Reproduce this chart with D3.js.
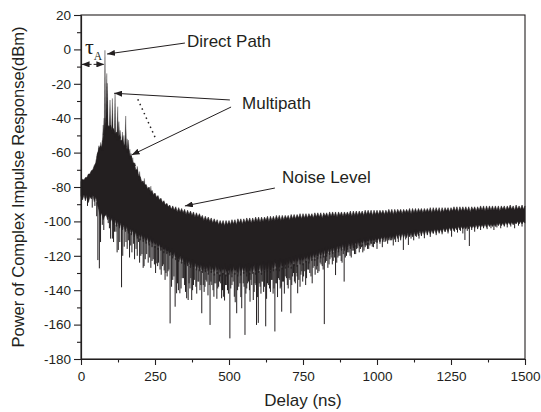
<!DOCTYPE html>
<html>
<head>
<meta charset="utf-8">
<script src="https://cdn.jsdelivr.net/npm/d3@7"></script>
<style>
  body { margin: 0; background: #fff; }
  svg { display: block; font-family: "Liberation Sans", Arial, sans-serif; }
  .axis path, .axis line { stroke: #231f20; stroke-width: 1.1; }
  .axis text { font-size: 13.5px; fill: #231f20; }
  .note { font-size: 17px; fill: #231f20; }
</style>
</head>
<body>
<svg id="chart" width="541" height="412"></svg>
<script>
// sample grid of the trace (ns)
const delay = d3.range(0, 1501, 5);

// top of the dense trace (dBm), one value per sample
const upper = [
  -77, -75.5, -76, -74.5, -74.5, -72.5, -72.5, -70.5, -70, -67.5, -66, -61, -58.5, -56, -57, -52, -48, -40, -44, -45,
  -44, -47, -46, -49, -48, -51, -50, -53, -53, -56, -55, -58, -58, -62, -62, -66, -66, -70, -70, -73.5,
  -74, -77, -76.5, -79, -78.5, -81, -80, -83, -82, -84.5, -83.5, -86, -85, -87.5, -86.5, -89, -88, -90.5, -89.5, -91.5,
  -90.5, -93, -91, -93.5, -91.5, -94.5, -92, -94.5, -92.5, -95, -93, -96, -93.5, -96, -94, -96.5, -94.5, -97.5, -95, -97.5,
  -95.5, -98, -96.5, -99.5, -97, -99.5, -97.5, -100, -98, -101, -98.5, -101, -99, -102, -99.5, -102, -99.5, -102.5, -99.5, -102,
  -99.5, -102, -99, -101.5, -99, -102, -98.5, -101, -98.5, -101.5, -98.5, -101, -98, -100.5, -98, -101, -98, -100.5, -97.5, -100,
  -97.5, -100.5, -97.5, -100, -97.5, -99.5, -97, -100, -97, -99.5, -97, -99.5, -96.5, -99, -96.5, -99.5, -96.5, -99, -96.5, -98.5,
  -96.5, -99, -96, -98.5, -96, -98.5, -96, -98, -95.5, -98.5, -95.5, -98, -95.5, -98, -95.5, -97.5, -95.5, -98, -95, -97.5,
  -95, -97.5, -95, -98, -95, -97, -95, -97.5, -94.5, -97, -94.5, -97, -94.5, -97.5, -94.5, -96.5, -94.5, -97, -94.5, -96.5,
  -94.5, -96.5, -94, -97, -94, -96.5, -94, -96.5, -94, -96, -94, -96.5, -93.5, -96, -93.5, -96, -93.5, -96.5, -93.5, -96,
  -93.5, -96, -93.5, -95.5, -93.5, -96, -93.5, -95.5, -93, -95.5, -93, -96, -93, -95.5, -93, -95, -93, -95.5, -93, -95,
  -93, -95, -92.5, -95.5, -92.5, -95, -92.5, -95, -92.5, -94.5, -92.5, -95, -92.5, -94.5, -92.5, -94.5, -92, -95, -92, -94.5,
  -92, -94.5, -92, -95, -92, -94.5, -92, -94, -92, -94.5, -92, -94, -91.5, -94, -91.5, -94.5, -91.5, -94, -91.5, -94,
  -91.5, -94, -91.5, -94.5, -91.5, -93.5, -91.5, -94, -91.5, -93.5, -91, -93.5, -91, -94, -91, -93.5, -91, -93.5, -91, -93.5,
  -91, -93.5, -91, -94, -91, -93, -91, -93.5, -91, -93, -90.5, -93, -91, -93.5, -90.5, -93, -91, -93, -90.5, -93,
  -91
];

// bottom of the dense trace (dBm)
const lower = [
  -85, -87.5, -84.5, -88, -85, -89, -85.5, -87, -84.5, -88.5, -86, -90, -93, -97, -95, -99, -97, -96, -99, -97,
  -100, -98, -102, -99, -103, -100, -104, -101, -105, -102, -106, -103, -107, -104, -108, -105, -109, -106, -110, -107,
  -111, -107.5, -112, -108.5, -113, -109, -114, -110, -115, -111, -115.5, -112, -116.5, -113, -117, -114, -118.5, -115, -119, -116.5,
  -120, -117, -121.5, -118, -122.5, -119, -123.5, -120, -124.5, -121, -125, -122, -126, -123, -127, -123.5, -128, -124, -128.5, -125,
  -129, -125, -130, -125.5, -129.5, -126, -131, -125, -130, -126.5, -131.5, -125.5, -130.5, -126, -132, -126.5, -131, -125.5, -132, -127,
  -131, -126.5, -132.5, -126, -131, -127, -132, -125.5, -131.5, -126.5, -130.5, -126, -132, -125.5, -131, -126, -130.5, -125, -131, -125.5,
  -130, -125, -131, -124.5, -130, -125, -129.5, -124, -130, -124.5, -129, -123.5, -128.5, -124, -129, -123, -128, -123.5, -127.5, -122.5,
  -127, -122, -127.5, -121.5, -126, -121, -126.5, -120.5, -125, -120.5, -125.5, -120, -124, -119.5, -124.5, -119, -123, -118.5, -123, -118,
  -122, -117.5, -121.5, -117, -121, -116, -120.5, -116, -119.5, -115.5, -119, -115, -118.5, -114.5, -118, -114, -117, -113.5, -117, -113,
  -116.5, -112.5, -116, -112, -115.5, -112, -115, -111.5, -114.5, -111, -114.5, -110.5, -114, -110.5, -113.5, -110, -113, -110, -113, -109.5,
  -112.5, -109.5, -112, -109, -112, -108.5, -111.5, -108.5, -111, -108, -111, -108, -110.5, -107.5, -110, -107.5, -110, -107, -109.5, -107,
  -109.5, -106.5, -109, -106.5, -109, -106, -108.5, -106, -108.5, -105.5, -108, -105.5, -108, -105, -107.5, -105, -107.5, -105, -107, -104.5,
  -107, -104.5, -106.5, -104.5, -106.5, -104, -106, -104, -106, -103.5, -105.5, -103.5, -105.5, -103.5, -105, -103, -105, -103, -104.5, -103,
  -104.5, -102.5, -104.5, -102.5, -104, -102.5, -104, -102, -104, -102, -103.5, -102, -103.5, -101.5, -103.5, -101.5, -103, -101.5, -103, -101.5,
  -103, -101, -102.5, -101, -102.5, -101, -102.5, -100.5, -102, -100.5, -102, -100.5, -102, -100.5, -101.5, -100, -101.5, -100, -101.5, -100,
  -101
];

// deep fades below the trace
const dipDelay = [22, 38, 47, 53, 57, 62, 66, 72, 77, 92, 106, 113, 126, 137, 146, 152, 160, 168, 177, 186,
  194, 202, 210, 217, 222, 232, 240, 248, 256, 262, 267, 275, 281, 287, 294, 301, 310, 318, 323, 329,
  334, 342, 350, 357, 362, 368, 374, 380, 388, 395, 402, 408, 413, 419, 425, 436, 442, 449, 456, 462,
  468, 475, 481, 488, 495, 503, 510, 518, 526, 533, 543, 548, 554, 560, 566, 571, 577, 582, 588, 593,
  599, 605, 611, 617, 624, 630, 637, 644, 649, 655, 661, 667, 673, 678, 684, 690, 697, 703, 709, 715,
  721, 727, 732, 740, 746, 752, 759, 766, 773, 781, 788, 795, 800, 808, 815, 822, 830, 838, 845, 852,
  860, 868, 875, 882, 889, 897, 905, 913, 920, 928, 935, 944, 952, 960, 968, 976, 984, 992, 1000, 1010,
  1018, 1027, 1036, 1045, 1055, 1063, 1072, 1080, 1089, 1097, 1106, 1115, 1124, 1133, 1142, 1150, 1160, 1170, 1180, 1190,
  1200, 1210, 1220, 1230, 1240, 1252, 1262, 1272, 1282, 1290, 1297, 1305, 1312, 1320, 1330, 1340, 1350, 1360, 1372, 1385,
  1395, 1405, 1418, 1430, 1440, 1452, 1465, 1478, 1490,
  96, 100, 110, 118, 122, 131, 141, 156, 164, 172, 181, 190, 198, 206, 213, 227, 236, 244, 252, 259,
  271, 278, 284, 291, 297, 306, 314, 326, 338, 346, 353, 365, 371, 377, 384, 391, 398, 405, 416, 422,
  429, 433, 439, 446, 452, 459, 465, 472, 478, 485, 491, 498, 506, 514, 521, 529, 537, 540, 551, 557,
  563, 569, 574, 585, 591, 596, 602, 608, 614, 620, 627, 633, 640, 646, 652, 658, 664, 670, 676, 681,
  687, 694, 700, 706, 712, 718, 724, 730, 736, 743, 749, 756, 762, 769, 777, 784, 791, 798, 804, 811,
  818, 826, 834, 841, 849, 856, 864, 871, 879, 886, 893, 901, 909, 916, 924, 931, 940, 948, 956, 964,
  972, 980, 988, 996];
const dipPower = [-91, -92, -91, -97, -122.5, -127.3, -112, -102, -105, -101, -110, -106, -116.6, -138.3, -114.7, -112, -111, -114, -113, -116,
  -112, -120, -127, -122, -119, -121, -123, -125, -124.4, -124, -128, -126, -128.5, -130, -129, -159.3, -134, -149.6, -141.8, -140,
  -141.8, -133, -137, -144.7, -145.7, -139, -145.7, -137, -138, -135, -140, -153.4, -137, -138, -135, -160.2, -137, -143.8, -136, -139,
  -135, -144.7, -143.8, -137, -140, -168, -137, -143.8, -153.4, -138, -150.5, -136, -166, -139, -135, -146.7, -137, -145.7, -136, -160.2,
  -159, -138, -135, -141, -161, -136, -139, -134, -142, -164, -136, -133, -139, -152.5, -135, -132, -137, -133, -153.4, -132,
  -135, -130, -141.8, -138, -129, -132, -137, -128, -130, -136, -126, -128, -130, -124, -126, -159.7, -123, -125, -121, -123,
  -131.2, -121, -120, -124, -135, -120, -118, -121, -117, -119, -115.6, -116, -118, -115, -116, -114, -114.7, -113, -116, -113,
  -115, -112, -113, -111, -114, -112, -112, -111, -116.6, -110.5, -113.7, -110, -111, -109, -110, -108.5, -109.8, -108, -109, -107,
  -108, -107, -107.5, -106, -107, -108.9, -106, -106.5, -105.5, -107, -110.8, -105.5, -114.3, -105, -106, -104.5, -105, -104, -104.5, -104,
  -105, -103.5, -104, -103, -103.5, -103, -104, -102.5, -103,
  -104, -110, -112, -106, -118, -112, -120, -116, -121, -118, -122, -120, -124, -119, -126, -124, -127, -122, -130, -126,
  -131, -125, -134, -132, -128, -138, -132, -136, -139, -133, -141, -136, -133, -140, -134, -142, -135, -137, -141, -134,
  -143, -137, -135, -140, -136, -145, -138, -136, -140, -146, -137, -142, -139, -135, -147, -140, -136, -144, -138, -142,
  -136, -140, -134, -141, -137, -144, -136, -142, -135, -138, -145, -137, -141, -134, -139, -136, -144, -134, -138, -135,
  -142, -133, -139, -134, -137, -130, -136, -132, -134, -131, -135, -129, -133, -128, -132, -127, -131, -126, -129, -125,
  -128, -124, -127, -122, -125, -121, -124, -120, -123, -119, -121, -118, -120, -117, -119, -116, -118, -115, -117, -114,
  -116, -113, -115, -112];

// direct path and multipath peaks above the trace
const peakDelay = [52, 56, 60, 63, 67, 72, 75, 78, 81, 87, 89, 98, 106, 115, 124,
  128, 132, 140, 145, 151, 156, 160, 165, 169, 175, 182, 190, 198, 214, 236];
const peakPower = [-64, -60, -56, -57, -54, -53, -44, -40, -0.5, -14, -19.7, -29.4, -28.5, -25.5, -33.3,
  -42, -47, -48, -50, -38.7, -52, -52.7, -58, -60.4, -63, -66, -68, -71, -75, -79.5];

const xTicks = [0, 250, 500, 750, 1000, 1250, 1500];
const xMinor = [125, 375, 625, 875, 1125, 1375];
const yTicks = [-180, -160, -140, -120, -100, -80, -60, -40, -20, 0, 20];
const yMinor = [-170, -150, -130, -110, -90, -70, -50, -30, -10, 10];

const ink = "#231f20";
const svg = d3.select("#chart");

let x = d3.scaleLinear().domain([0, 1500]).range([81, 525]);
let y = d3.scaleLinear().domain([-180, 20]).range([359, 15]);

// arrow head
svg.append("defs").append("marker")
  .attr("id", "head")
  .attr("viewBox", "0 0 8 6")
  .attr("refX", 8).attr("refY", 3)
  .attr("markerWidth", 8).attr("markerHeight", 6)
  .attr("markerUnits", "userSpaceOnUse")
  .attr("orient", "auto-start-reverse")
  .append("path")
  .attr("d", "M0,0L8,3L0,6Z")
  .attr("fill", ink);

// dense trace
let band = d3.area()
  .x((d, i) => x(delay[i]))
  .y0((d, i) => y(lower[i]))
  .y1((d, i) => y(upper[i]));

svg.append("path")
  .datum(delay)
  .attr("d", band)
  .attr("fill", ink)
  .attr("stroke", ink)
  .attr("stroke-width", 0.6)
  .attr("stroke-linejoin", "bevel");

// fades, drawn from the bottom of the trace
let idx = t => Math.round(t / 5);
svg.append("g")
  .selectAll("line")
  .data(dipDelay)
  .join("line")
  .attr("x1", d => x(d)).attr("x2", d => x(d))
  .attr("y1", d => y(lower[idx(d)]) - 2)
  .attr("y2", (d, i) => y(dipPower[i]))
  .attr("stroke", ink)
  .attr("stroke-width", 1);

// peaks as narrow wedges
svg.append("g")
  .selectAll("path")
  .data(peakDelay)
  .join("path")
  .attr("d", (d, i) => {
    let base = y(upper[idx(d)]) + 3;
    return "M" + (x(d) - 0.8) + "," + base + "L" + x(d) + "," + y(peakPower[i]) + "L" + (x(d) + 0.8) + "," + base + "Z";
  })
  .attr("fill", ink)
  .attr("stroke", ink)
  .attr("stroke-width", 0.3);

// axes
svg.append("g")
  .attr("class", "axis")
  .attr("transform", "translate(0,359)")
  .call(d3.axisBottom(x).tickValues(xTicks).tickSize(6).tickSizeOuter(0).tickPadding(6).tickFormat(d => String(d)));
svg.append("g")
  .attr("class", "axis")
  .attr("transform", "translate(0,359)")
  .call(d3.axisBottom(x).tickValues(xMinor).tickSize(3.5).tickSizeOuter(0).tickFormat(""));

svg.append("g")
  .attr("class", "axis")
  .attr("transform", "translate(81,0)")
  .call(d3.axisLeft(y).tickValues(yTicks).tickSize(7).tickSizeOuter(0).tickPadding(3).tickFormat(d => String(d)));
svg.append("g")
  .attr("class", "axis")
  .attr("transform", "translate(81,0)")
  .call(d3.axisLeft(y).tickValues(yMinor).tickSize(4).tickSizeOuter(0).tickFormat(""));

// frame
svg.append("rect")
  .attr("x", x(0)).attr("y", y(20))
  .attr("width", x(1500) - x(0)).attr("height", y(-180) - y(20))
  .attr("fill", "none")
  .attr("stroke", ink)
  .attr("stroke-width", 1.1);

// axis titles
svg.append("text")
  .attr("class", "note")
  .attr("x", (x(0) + x(1500)) / 2).attr("y", 406)
  .attr("text-anchor", "middle")
  .text("Delay (ns)");

svg.append("text")
  .attr("class", "note")
  .attr("transform", "translate(23.5," + y(-80) + ") rotate(-90)")
  .attr("text-anchor", "middle")
  .style("font-size", "16.5px")
  .text("Power of Complex Impulse Response(dBm)");

// annotations (data units)
function arrow(from, to, dash) {
  return svg.append("line")
    .attr("x1", x(from[0])).attr("y1", y(from[1]))
    .attr("x2", x(to[0])).attr("y2", y(to[1]))
    .attr("stroke", ink)
    .attr("stroke-width", 1)
    .attr("stroke-dasharray", dash || null)
    .attr("marker-end", "url(#head)");
}

arrow([351, 3.7], [88, -2.7]);
arrow([503, -29.4], [112, -25.5]);
arrow([507, -33.5], [171, -61.4]);
arrow([655, -80.6], [351, -91]);
arrow([2, -8.7], [79, -8.7], "4,2").attr("marker-start", "url(#head)");

svg.append("line")
  .attr("x1", x(192)).attr("y1", y(-29))
  .attr("x2", x(250)).attr("y2", y(-51))
  .attr("stroke", ink)
  .attr("stroke-width", 1.5)
  .attr("stroke-dasharray", "1.5,3.5");

svg.append("text").attr("class", "note")
  .attr("x", x(358)).attr("y", y(1.4)).text("Direct Path");
svg.append("text").attr("class", "note")
  .attr("x", x(544)).attr("y", y(-34.7)).text("Multipath");
svg.append("text").attr("class", "note")
  .attr("x", x(679)).attr("y", y(-77.7)).text("Noise Level");

let tau = svg.append("text")
  .attr("x", x(13.5)).attr("y", y(-2.4))
  .attr("fill", ink)
  .style("font-family", "'Liberation Serif', 'Times New Roman', serif");
tau.append("tspan").style("font-size", "22px").text("τ");
tau.append("tspan").style("font-size", "11.5px").attr("dy", 6).text("A");
</script>
</body>
</html>
